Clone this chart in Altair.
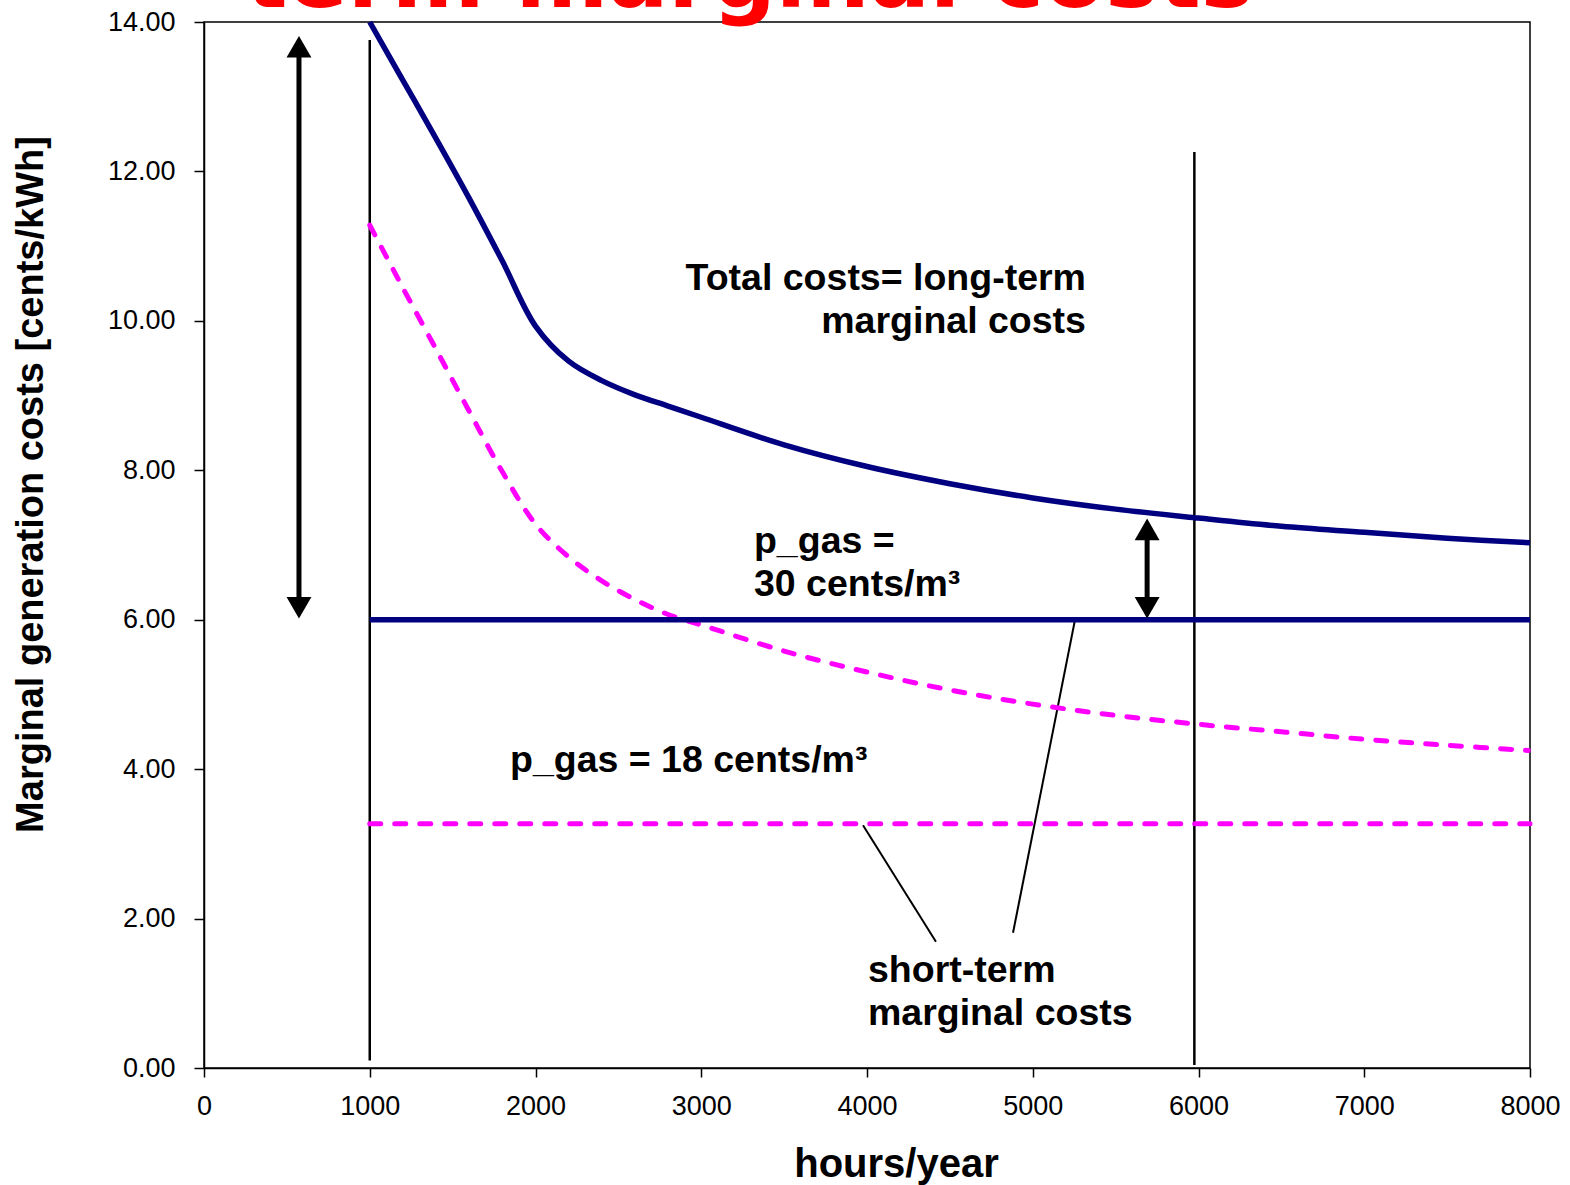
import altair as alt
import pandas as pd

# ---- data ----
hours_30 = [1000, 1200, 1400, 1600, 1800, 2000, 2200, 2400, 2600, 2800, 3000,
            3500, 4000, 4500, 5000, 5500, 6000, 6500, 7000, 7500, 8000]
total_30 = [14.0, 13.22, 12.44, 11.64, 10.80, 9.93, 9.46, 9.20, 9.01, 8.86, 8.71,
            8.34, 8.05, 7.82, 7.63, 7.48, 7.36, 7.25, 7.17, 7.09, 7.03]

hours_18 = [1000, 1100, 1200, 1400, 1600, 1800, 2000, 2200, 2400, 2600, 2800, 3000,
            3500, 4000, 4500, 5000, 5500, 6000, 6500, 7000, 7500, 7990]
total_18 = [11.28, 10.86, 10.44, 9.62, 8.79, 7.98, 7.28, 6.84, 6.52, 6.27, 6.07, 5.93,
            5.58, 5.30, 5.06, 4.87, 4.72, 4.60, 4.50, 4.40, 4.32, 4.25]

flat_hours = [1000, 8000]
short_30 = [6.0, 6.0]
short_18 = [3.27, 3.27]

vline_x = [1000, 5975]
vline_top = [13.76, 12.26]
vline_bottom = [0.1, 0.04]

arrow_x = [573, 5690]
arrow_top = [13.83, 7.37]
arrow_bottom = [6.0, 6.0]

leader_x = [3976, 5255]
leader_y = [3.25, 6.0]
leader_x2 = [4416, 4881]
leader_y2 = [1.69, 1.81]

note_text = ["Total costs= long-term", "marginal costs", "p_gas =", "30 cents/m³",
             "p_gas = 18 cents/m³", "short-term", "marginal costs"]
note_x = [5321, 5321, 3318, 3318, 1846, 4006, 4006]
note_y = [10.41, 9.84, 6.89, 6.32, 3.96, 1.15, 0.58]
note_align = ["right", "right", "left", "left", "left", "left", "left"]

title_text = ["term marginal costs"]
title_x = [247]
title_y = [14.20]

x_ticks = [0, 1000, 2000, 3000, 4000, 5000, 6000, 7000, 8000]
y_ticks = [0, 2, 4, 6, 8, 10, 12, 14]

# ---- tables ----
df30 = pd.DataFrame({"h": hours_30, "c": total_30})
df18 = pd.DataFrame({"h": hours_18, "c": total_18})
dfs30 = pd.DataFrame({"h": flat_hours, "c": short_30})
dfs18 = pd.DataFrame({"h": flat_hours, "c": short_18})
dfv = pd.DataFrame({"h": vline_x, "top": vline_top, "bot": vline_bottom})
dfa = pd.DataFrame({"h": arrow_x, "top": arrow_top, "bot": arrow_bottom})
dfl = pd.DataFrame({"h": leader_x, "c": leader_y, "h2": leader_x2, "c2": leader_y2})
dfn = pd.DataFrame({"t": note_text, "h": note_x, "c": note_y, "a": note_align})
dft = pd.DataFrame({"t": title_text, "h": title_x, "c": title_y})

xs = alt.Scale(domain=[0, 8000], nice=False, zero=False)
ys = alt.Scale(domain=[0, 14], nice=False, zero=False)

X = alt.X("h:Q", scale=xs, axis=alt.Axis(
    values=x_ticks, format="d", title="hours/year", grid=False, labelFlush=False,
    labelFont="Liberation Sans", labelFontSize=27, labelColor="black",
    tickColor="black", tickSize=9, tickWidth=1.5, domainColor="black", domainWidth=1.5,
    labelPadding=16, titleFont="Liberation Sans", titleFontSize=40, titleFontWeight="bold",
    titleColor="black", titleX=692, titleY=108, titleAlign="center", titleBaseline="alphabetic"))
Y = alt.Y("c:Q", scale=ys, axis=alt.Axis(
    values=y_ticks, format=".2f", title="Marginal generation costs [cents/kWh]", grid=False,
    labelFont="Liberation Sans", labelFontSize=27, labelColor="black",
    tickColor="black", tickSize=10, tickWidth=1.5, domainColor="black", domainWidth=1.5,
    labelPadding=19, titleFont="Liberation Sans", titleFontSize=38, titleFontWeight="bold",
    titleColor="black", titleX=-162, titleY=462, titleAngle=270, titleAlign="center",
    titleBaseline="alphabetic"))

line30 = alt.Chart(df30).mark_line(color="#000080", strokeWidth=5.5, interpolate="catmull-rom",
                                   clip=False).encode(x=X, y=Y)
line18 = alt.Chart(df18).mark_line(color="#FF00FF", strokeWidth=5, interpolate="catmull-rom",
                                   strokeDash=[11, 14], strokeCap="round").encode(
    x=alt.X("h:Q", scale=xs), y=alt.Y("c:Q", scale=ys))
flat30 = alt.Chart(dfs30).mark_line(color="#000080", strokeWidth=5.5).encode(
    x=alt.X("h:Q", scale=xs), y=alt.Y("c:Q", scale=ys))
flat18 = alt.Chart(dfs18).mark_line(color="#FF00FF", strokeWidth=5,
                                    strokeDash=[11, 14], strokeCap="round").encode(
    x=alt.X("h:Q", scale=xs), y=alt.Y("c:Q", scale=ys))

vlines = alt.Chart(dfv).mark_rule(color="black", strokeWidth=2.5).encode(
    x=alt.X("h:Q", scale=xs), y=alt.Y("top:Q", scale=ys), y2="bot:Q")

shafts = alt.Chart(dfa).mark_rule(color="black", strokeWidth=5, yOffset=14, y2Offset=-14).encode(
    x=alt.X("h:Q", scale=xs), y=alt.Y("top:Q", scale=ys), y2="bot:Q")
heads_up = alt.Chart(dfa).mark_point(shape="triangle-up", filled=True, color="black",
                                     size=620, opacity=1, yOffset=12).encode(
    x=alt.X("h:Q", scale=xs), y=alt.Y("top:Q", scale=ys))
heads_dn = alt.Chart(dfa).mark_point(shape="triangle-down", filled=True, color="black",
                                     size=620, opacity=1, yOffset=-12).encode(
    x=alt.X("h:Q", scale=xs), y=alt.Y("bot:Q", scale=ys))

leaders = alt.Chart(dfl).mark_rule(color="black", strokeWidth=2).encode(
    x=alt.X("h:Q", scale=xs), y=alt.Y("c:Q", scale=ys), x2="h2:Q", y2="c2:Q")

notes_r = alt.Chart(dfn[dfn.a == "right"]).mark_text(
    font="Liberation Sans", fontWeight="bold", fontSize=37.5, color="black",
    align="right", baseline="alphabetic").encode(
    x=alt.X("h:Q", scale=xs), y=alt.Y("c:Q", scale=ys), text="t:N")
notes_l = alt.Chart(dfn[dfn.a == "left"]).mark_text(
    font="Liberation Sans", fontWeight="bold", fontSize=37.5, color="black",
    align="left", baseline="alphabetic").encode(
    x=alt.X("h:Q", scale=xs), y=alt.Y("c:Q", scale=ys), text="t:N")

title = alt.Chart(dft).mark_text(
    font="DejaVu Sans", fontWeight="bold", fontSize=89, color="#FF0000",
    align="left", baseline="alphabetic").encode(
    x=alt.X("h:Q", scale=xs), y=alt.Y("c:Q", scale=ys), text="t:N")

chart = alt.layer(
    vlines, leaders, flat18, line18, flat30, line30, shafts, heads_up, heads_dn,
    notes_r, notes_l, title
).properties(
    width=1326, height=1046,
    autosize=alt.AutoSizeParams(type="none"),
    padding={"left": 204, "top": 22, "right": 40, "bottom": 117},
    background="white",
).configure_view(stroke="black", strokeWidth=1.5)

chart.save("out.html", embed_options={"renderer": "svg", "actions": False})
